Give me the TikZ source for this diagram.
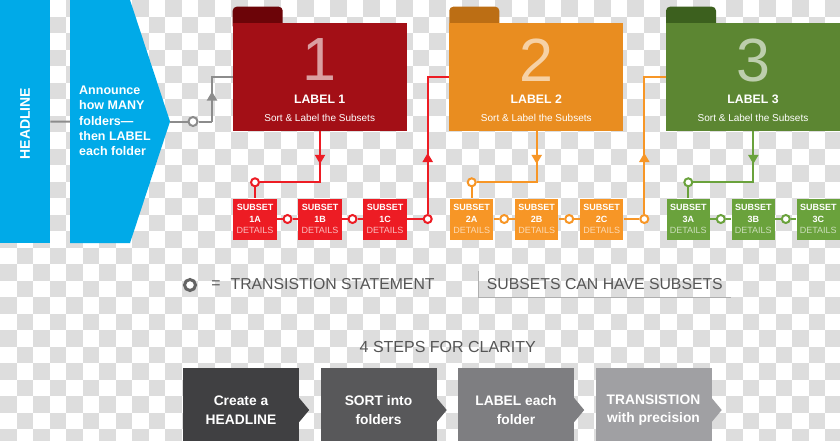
\documentclass[tikz,border=0pt]{standalone}
\usepackage{fontspec}
\setmainfont{Liberation Sans}
\usetikzlibrary{arrows.meta,decorations.markings,calc}
\definecolor{hblue}{RGB}{0,170,232}
\definecolor{checker}{RGB}{221,221,221}
\definecolor{linegray}{RGB}{140,140,140}
\definecolor{fred}{RGB}{163,15,22}
\definecolor{tred}{RGB}{108,4,8}
\definecolor{sred}{RGB}{237,28,36}
\definecolor{forange}{RGB}{233,141,32}
\definecolor{torange}{RGB}{188,110,20}
\definecolor{sorange}{RGB}{247,150,38}
\definecolor{fgreen}{RGB}{92,134,50}
\definecolor{tgreen}{RGB}{60,96,30}
\definecolor{sgreen}{RGB}{106,162,60}
\definecolor{txtgray}{RGB}{85,85,85}
\definecolor{ringgray}{RGB}{100,100,100}
\definecolor{boxline}{RGB}{175,175,175}
\definecolor{stepA}{RGB}{64,64,66}
\definecolor{stepB}{RGB}{88,88,90}
\definecolor{stepC}{RGB}{126,126,129}
\definecolor{stepD}{RGB}{160,160,163}
\tikzset{
  folder/.style={minimum width=174pt, minimum height=108pt, inner sep=0pt},
  bignum/.style={text=white, text opacity=0.6, font=\fontsize{61}{61}\selectfont, inner sep=0pt},
  flabel/.style={text=white, font=\bfseries\fontsize{12.3}{14}\selectfont, inner sep=0pt},
  fsub/.style={text=white, font=\fontsize{10}{12}\selectfont, inner sep=0pt},
  subset/.style={minimum width=43.5pt, minimum height=41pt, inner sep=0pt, align=center, text=white, font=\bfseries\fontsize{9}{11.2}\selectfont},
  ring/.style={circle, draw, fill=white, line width=2pt, minimum size=8pt, inner sep=0pt},
  conn/.style={line width=2pt},
  grayline/.style={conn, color=linegray},
  redline/.style={conn, color=sred},
  orangeline/.style={conn, color=sorange},
  greenline/.style={conn, color=sgreen},
  midarrow/.style={postaction={decorate}, decoration={markings, mark=at position #1 with {\arrow{Triangle[width=10pt,length=9pt]}}}},
  legend/.style={text=txtgray, font=\fontsize{15.8}{18}\selectfont, inner sep=0pt},
  stepbox/.style={minimum width=116pt, minimum height=84pt, inner sep=0pt, align=center, text=white, font=\bfseries\fontsize{13.8}{18.5}\selectfont},
}
\begin{document}
\begin{tikzpicture}[x=1pt,y=-1pt]
\useasboundingbox (0,0) rectangle (840,440);
\begin{scope}
\clip (0,0) rectangle (840,440);
\fill[white] (0,0) rectangle (840,440);
\foreach \i in {0,...,50}{\foreach \j in {0,...,26}{%
  \pgfmathtruncatemacro\s{\i+\j}%
  \ifodd\s\relax\else\fill[checker] (\i*16.5,\j*16.5) rectangle ++(16.5,16.5);\fi}}

% headline bar and announce arrow
\node[fill=hblue, minimum width=50pt, minimum height=243pt, inner sep=0pt, anchor=north west] (hl) at (0,0) {};
\node[rotate=90, text=white, font=\bfseries\fontsize{14}{16}\selectfont] (hltext) at (25,123.5) {HEADLINE};
\fill[hblue] (70,0) -- (130,0) -- (170,121.5) -- (130,243) -- (70,243) -- cycle;
\coordinate (pl) at (70,121.5);
\coordinate (ptip) at (170,121.5);
\node[anchor=west, align=left, inner sep=0pt, text=white, font=\bfseries\fontsize{12.5}{15.25}\selectfont] (ann) at (79,121) {Announce\\how MANY\\folders—\\then LABEL\\each folder};

% folders
\fill[tred, rounded corners=4pt] (232.7,6.7) rectangle (282.7,30);
\node[folder, fill=fred] (f1) at (319.7,76.7) {};
\node[bignum] (n1) at (319.7,60) {1};
\node[flabel] (l1) at (319.7,99.3) {LABEL 1};
\node[fsub] (t1) at (319.7,118.3) {Sort \& Label the Subsets};

\fill[torange, rounded corners=4pt] (449.3,6.7) rectangle (499.3,30);
\node[folder, fill=forange] (f2) at (536.3,76.7) {};
\node[bignum] (n2) at (536.3,60) {2};
\node[flabel] (l2) at (536.3,99.3) {LABEL 2};
\node[fsub] (t2) at (536.3,118.3) {Sort \& Label the Subsets};

\fill[tgreen, rounded corners=4pt] (666,6.7) rectangle (716,30);
\node[folder, fill=fgreen] (f3) at (753,76.7) {};
\node[bignum] (n3) at (753,60) {3};
\node[flabel] (l3) at (753,99.3) {LABEL 3};
\node[fsub] (t3) at (753,118.3) {Sort \& Label the Subsets};

% subsets
\node[subset, fill=sred] (s1a) at (255,219) {SUBSET\\1A\\{\mdseries\color{white!70!sred}DETAILS}};
\node[subset, fill=sred] (s1b) at (320,219) {SUBSET\\1B\\{\mdseries\color{white!70!sred}DETAILS}};
\node[subset, fill=sred] (s1c) at (385,219) {SUBSET\\1C\\{\mdseries\color{white!70!sred}DETAILS}};
\node[subset, fill=sorange] (s2a) at (471.7,219) {SUBSET\\2A\\{\mdseries\color{white!65!sorange}DETAILS}};
\node[subset, fill=sorange] (s2b) at (536.7,219) {SUBSET\\2B\\{\mdseries\color{white!65!sorange}DETAILS}};
\node[subset, fill=sorange] (s2c) at (601.7,219) {SUBSET\\2C\\{\mdseries\color{white!65!sorange}DETAILS}};
\node[subset, fill=sgreen] (s3a) at (688.3,219) {SUBSET\\3A\\{\mdseries\color{white!65!sgreen}DETAILS}};
\node[subset, fill=sgreen] (s3b) at (753.3,219) {SUBSET\\3B\\{\mdseries\color{white!65!sgreen}DETAILS}};
\node[subset, fill=sgreen] (s3c) at (818.3,219) {SUBSET\\3C\\{\mdseries\color{white!65!sgreen}DETAILS}};

% transition rings
\node[ring, draw=linegray, minimum size=9pt] (c0) at (193,121.5) {};
\node[ring, draw=sred] (c1top) at (255,182.3) {};
\node[ring, draw=sred] (c1ab) at (287.5,219) {};
\node[ring, draw=sred] (c1bc) at (352.5,219) {};
\node[ring, draw=sred] (c1out) at (427.7,219) {};
\node[ring, draw=sorange] (c2top) at (471.7,182.3) {};
\node[ring, draw=sorange] (c2ab) at (504.2,219) {};
\node[ring, draw=sorange] (c2bc) at (569.2,219) {};
\node[ring, draw=sorange] (c2out) at (644.3,219) {};
\node[ring, draw=sgreen] (c3top) at (688.3,182.3) {};
\node[ring, draw=sgreen] (c3ab) at (720.8,219) {};
\node[ring, draw=sgreen] (c3bc) at (785.8,219) {};

% gray connectors
\coordinate (g1) at (212,121.5);
\draw[grayline] (hl.east) -- (pl);
\draw[grayline] (ptip) -- (c0);
\draw[grayline] (c0) -- (g1);
\draw[grayline, midarrow=30pt] (g1) |- (f1.west);

% red connectors
\draw[redline, midarrow=33pt] (f1.south -| s1b.north) |- (c1top);
\draw[redline] (c1top) -- (s1a);
\draw[redline] (s1a) -- (c1ab) -- (s1b);
\draw[redline] (s1b) -- (c1bc) -- (s1c);
\draw[redline] (s1c) -- (c1out);
\draw[redline, midarrow=61pt] (c1out) |- (f2.west);

% orange connectors
\draw[orangeline, midarrow=33pt] (f2.south -| s2b.north) |- (c2top);
\draw[orangeline] (c2top) -- (s2a);
\draw[orangeline] (s2a) -- (c2ab) -- (s2b);
\draw[orangeline] (s2b) -- (c2bc) -- (s2c);
\draw[orangeline] (s2c) -- (c2out);
\draw[orangeline, midarrow=61pt] (c2out) |- (f3.west);

% green connectors
\draw[greenline, midarrow=33pt] (f3.south -| s3b.north) |- (c3top);
\draw[greenline] (c3top) -- (s3a);
\draw[greenline] (s3a) -- (c3ab) -- (s3b);
\draw[greenline] (s3b) -- (c3bc) -- (s3c);

% legend
\node[circle, draw=ringgray, line width=3pt, minimum size=11pt, inner sep=0pt, fill=white] (lg) at (190,285) {};
\node[legend] (eq) at (216,285) {=};
\node[legend, anchor=west] (ts) at (230.4,284) {TRANSISTION STATEMENT};
\node[legend, anchor=west] (sub) at (486.7,284) {SUBSETS CAN HAVE SUBSETS};
\draw[boxline, line width=1pt] (478,271) |- (731,297);

% steps
\node[legend, font=\fontsize{16}{18}\selectfont] (stt) at (447.7,347) {4 STEPS FOR CLARITY};
\node[stepbox, fill=stepA] (st1) at (241,410) {Create a\\HEADLINE};
\fill[stepA] ([yshift=12pt]st1.east) -- ([xshift=10pt]st1.east) -- ([yshift=-12pt]st1.east) -- cycle;
\node[stepbox, fill=stepB] (st2) at (378.5,410) {SORT into\\folders};
\fill[stepB] ([yshift=12pt]st2.east) -- ([xshift=10pt]st2.east) -- ([yshift=-12pt]st2.east) -- cycle;
\node[stepbox, fill=stepC] (st3) at (516,410) {LABEL each\\folder};
\fill[stepC] ([yshift=12pt]st3.east) -- ([xshift=10pt]st3.east) -- ([yshift=-12pt]st3.east) -- cycle;
\node[stepbox, fill=stepD] (st4) at (653.5,410) {TRANSISTION\\with precision};
\fill[stepD] ([yshift=12pt]st4.east) -- ([xshift=10pt]st4.east) -- ([yshift=-12pt]st4.east) -- cycle;
\end{scope}
\end{tikzpicture}
\end{document}
